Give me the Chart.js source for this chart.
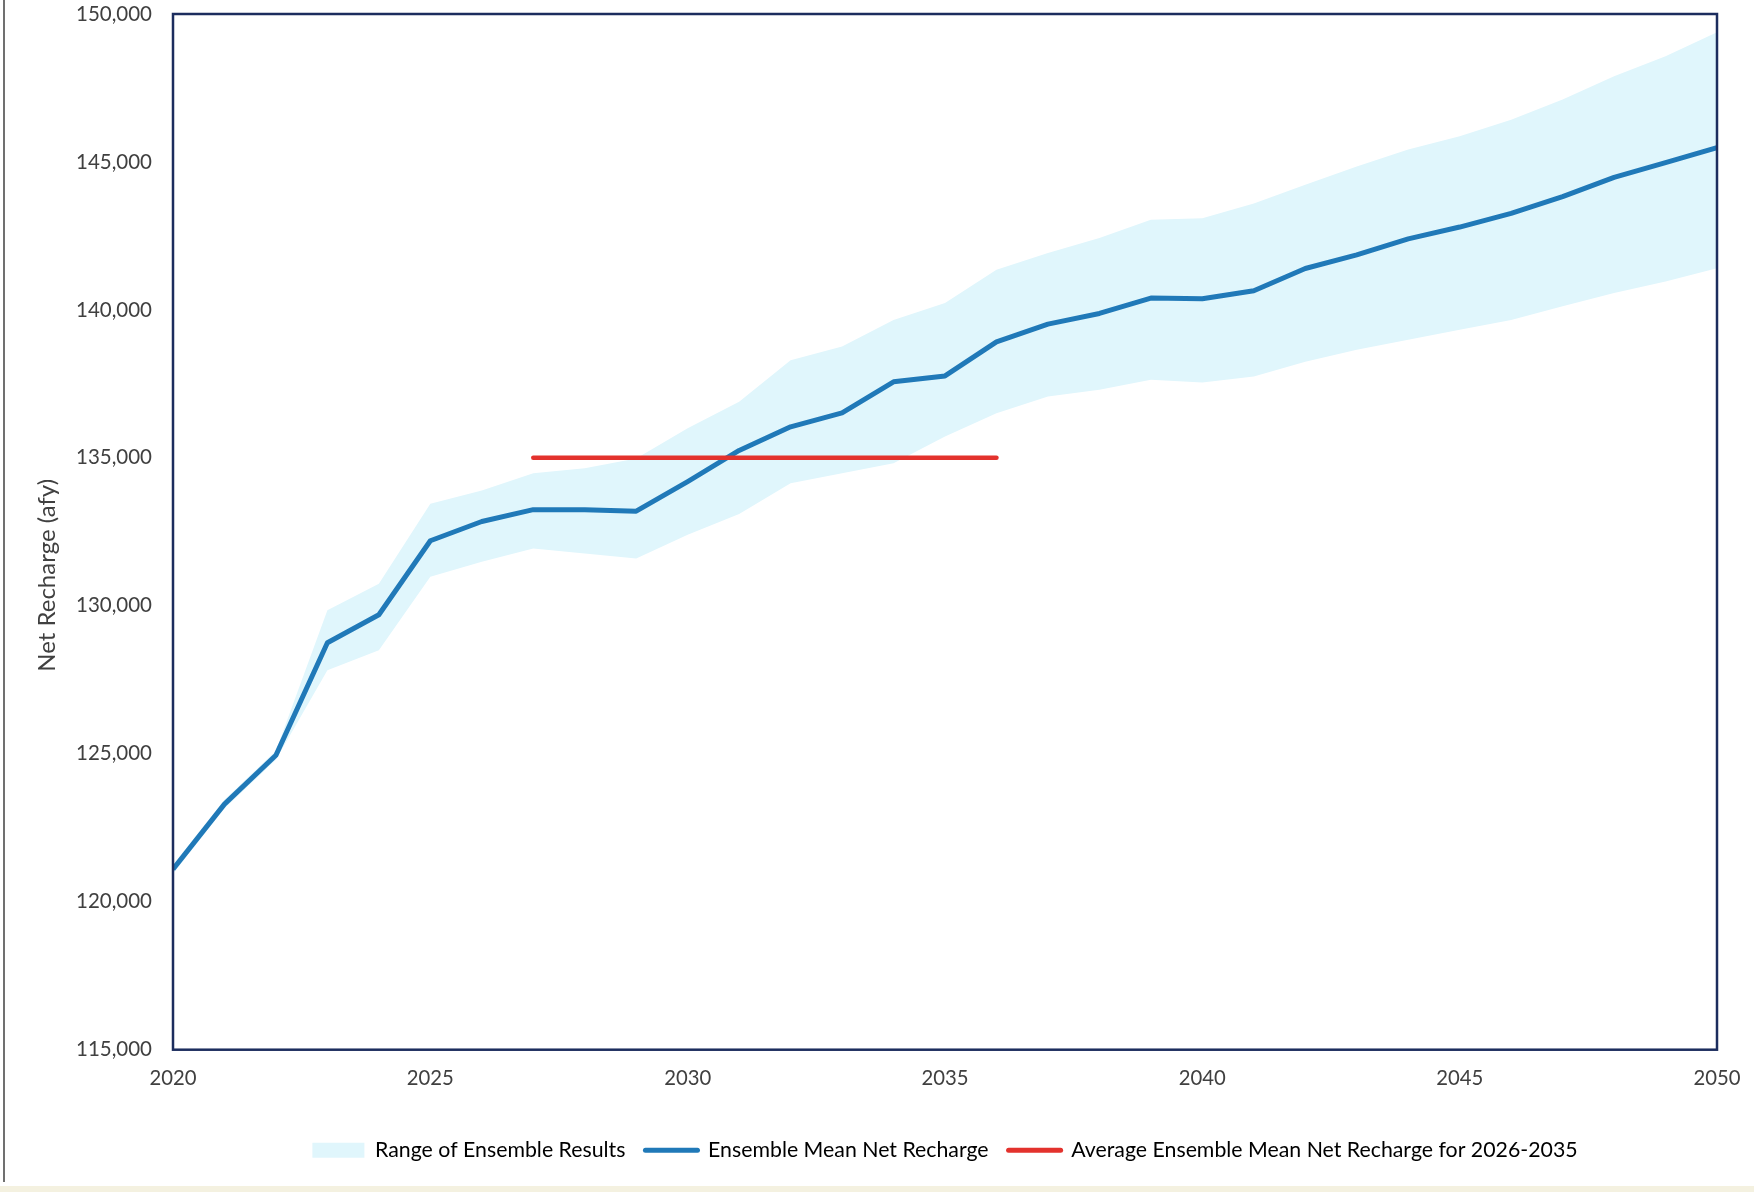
<!DOCTYPE html>
<html>
<head>
<meta charset="utf-8">
<script src="https://cdn.jsdelivr.net/npm/chart.js@4.4.1/dist/chart.umd.min.js"></script>
<style>
  html, body { margin: 0; padding: 0; background: #fff; }
  #wrap { position: relative; width: 1754px; height: 1192px; overflow: hidden; }
  #edge { position: absolute; left: 3px; top: 0; width: 2px; height: 1182px; background: #707070; }
  #strip { position: absolute; left: 0; bottom: 0; width: 1754px; height: 6px; background: #f4f1e0; }
</style>
</head>
<body>
<div id="wrap">
  <canvas id="chart" width="1754" height="1192"></canvas>
  <div id="edge"></div>
  <div id="strip"></div>
</div>
<script>
'use strict';
// годы расчёта
const years = [2020, 2021, 2022, 2023, 2024, 2025, 2026, 2027, 2028, 2029,
               2030, 2031, 2032, 2033, 2034, 2035, 2036, 2037, 2038, 2039,
               2040, 2041, 2042, 2043, 2044, 2045, 2046, 2047, 2048, 2049, 2050];

// ensemble mean net recharge (afy)
const meanRecharge = [121100, 123300, 124950, 128750, 129700, 132200, 132850, 133250, 133250, 133200,
                      134200, 135250, 136050, 136520, 137570, 137770, 138920, 139520, 139880, 140400,
                      140380, 140650, 141400, 141860, 142400, 142800, 143260, 143830, 144480, 144980, 145480];

// range of ensemble results
const rangeUpper = [121250, 123450, 125100, 129850, 130750, 133450, 133900, 134480, 134650, 134980,
                    136000, 136900, 138300, 138760, 139660, 140230, 141360, 141920, 142430, 143050,
                    143100, 143600, 144230, 144850, 145420, 145870, 146430, 147110, 147900, 148570, 149380];
const rangeLower = [120950, 123150, 124800, 127820, 128500, 130980, 131490, 131940, 131770, 131600,
                    132400, 133100, 134140, 134480, 134820, 135720, 136510, 137070, 137300, 137640,
                    137550, 137750, 138250, 138650, 138990, 139330, 139660, 140120, 140570, 140960, 141410];

// average of the mean for the period (drawn 2027..2036 in the source)
const avgYears = [2027, 2036];
const avgValue = [135000, 135000];

const xTicks = [2020, 2025, 2030, 2035, 2040, 2045, 2050];
const yTitle = 'Net Recharge (afy)';
const legendLabels = ['Range of Ensemble Results', 'Ensemble Mean Net Recharge',
                      'Average Ensemble Mean Net Recharge for 2026-2035'];

const bandColor = '#e0f6fc';
const meanColor = '#2079b8';
const avgColor = '#e3322d';
const textColor = '#404040';
const frameColor = '#1c2d5e';
const fontFamily = 'Lato, "Noto Sans", sans-serif';

function toPoints(xs, ys) {
    return xs.map((x, i) => ({ x: x, y: ys[i] }));
}

// рамка вокруг области графика + подпись оси Y
const framePlugin = {
    id: 'frame',
    afterDatasetsDraw(chart) {
        const a = chart.chartArea;
        const ctx = chart.ctx;
        ctx.save();
        ctx.strokeStyle = frameColor;
        ctx.lineWidth = 2.5;
        ctx.strokeRect(a.left, a.top, a.right - a.left, a.bottom - a.top);
        ctx.restore();
    },
    afterDraw(chart) {
        const a = chart.chartArea;
        const ctx = chart.ctx;
        ctx.save();
        ctx.translate(47, a.top + (a.bottom - a.top) * 0.542);
        ctx.rotate(-Math.PI / 2);
        ctx.font = '24px ' + fontFamily;
        ctx.fillStyle = textColor;
        ctx.textAlign = 'center';
        ctx.textBaseline = 'middle';
        ctx.fillText(yTitle, 0, 0);
        ctx.restore();
    }
};

Chart.defaults.font.family = fontFamily;
Chart.defaults.color = textColor;

const chart = new Chart(document.getElementById('chart'), {
    type: 'line',
    data: {
        datasets: [{
            label: legendLabels[0],
            data: toPoints(years, rangeUpper),
            borderWidth: 0,
            backgroundColor: bandColor,
            pointRadius: 0,
            fill: '+1',
            order: 3
        }, {
            label: 'lower',
            data: toPoints(years, rangeLower),
            borderWidth: 0,
            pointRadius: 0,
            fill: false,
            order: 3
        }, {
            label: legendLabels[1],
            data: toPoints(years, meanRecharge),
            borderColor: meanColor,
            borderWidth: 5,
            pointRadius: 0,
            borderJoinStyle: 'round',
            fill: false,
            order: 1
        }, {
            label: legendLabels[2],
            data: toPoints(avgYears, avgValue),
            borderColor: avgColor,
            borderWidth: 4.5,
            borderCapStyle: 'round',
            pointRadius: 0,
            fill: false,
            order: 0
        }]
    },
    options: {
        responsive: false,
        animation: false,
        devicePixelRatio: 1,
        layout: {
            padding: { top: 14, right: 37, bottom: 21, left: 0 }
        },
        plugins: {
            tooltip: { enabled: false },
            legend: {
                position: 'bottom',
                fullSize: false,
                labels: {
                    usePointStyle: true,
                    pointStyleWidth: 52,
                    boxHeight: 15,
                    padding: 20,
                    color: textColor,
                    font: { size: 21.3 },
                    generateLabels: () => [
                        { text: legendLabels[0], fillStyle: bandColor, strokeStyle: bandColor,
                          lineWidth: 0, pointStyle: 'rect', hidden: false, datasetIndex: 0 },
                        { text: legendLabels[1], fillStyle: meanColor, strokeStyle: meanColor,
                          lineWidth: 5, lineCap: 'round', pointStyle: 'line', hidden: false, datasetIndex: 2 },
                        { text: legendLabels[2], fillStyle: avgColor, strokeStyle: avgColor,
                          lineWidth: 5, lineCap: 'round', pointStyle: 'line', hidden: false, datasetIndex: 3 }
                    ]
                }
            }
        },
        scales: {
            x: {
                type: 'linear',
                min: 2020,
                max: 2050,
                grid: { display: false, drawTicks: false },
                border: { display: false },
                afterBuildTicks: (scale) => {
                    scale.ticks = xTicks.map(v => ({ value: v }));
                },
                afterFit: (scale) => {
                    scale.height = 70;
                    scale.paddingLeft = 0;
                    scale.paddingRight = 0;
                },
                ticks: {
                    padding: 17,
                    maxRotation: 0,
                    font: { size: 20.3 },
                    callback: (v) => String(v)
                }
            },
            y: {
                min: 115000,
                max: 150000,
                grid: { display: false, drawTicks: false },
                border: { display: false },
                afterFit: (scale) => {
                    scale.width = 173;
                    scale.paddingTop = 12;
                    scale.paddingBottom = 12;
                },
                ticks: {
                    stepSize: 5000,
                    padding: 21,
                    font: { size: 20.5 },
                    callback: (v) => v.toLocaleString('en-US')
                }
            }
        }
    },
    plugins: [framePlugin]
});
</script>
</body>
</html>
